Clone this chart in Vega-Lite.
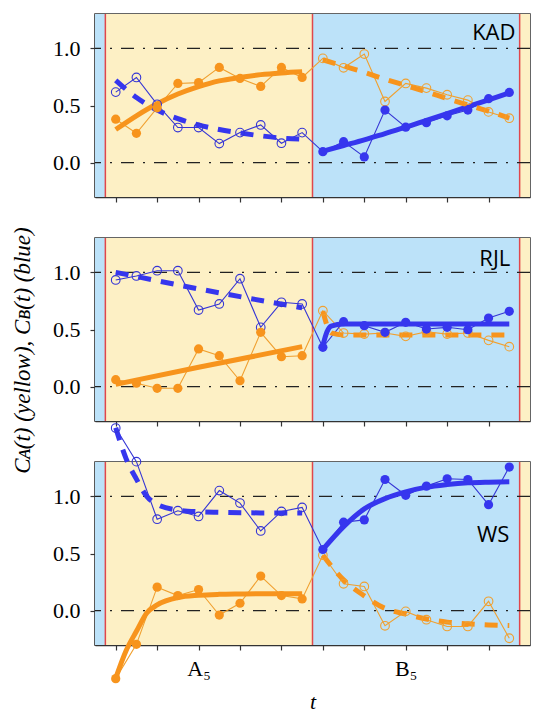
{
  "$schema": "https://vega.github.io/schema/vega-lite/v6.json",
  "padding": {"left": 10, "top": 12, "right": 5, "bottom": 5},
  "background": "white",
  "config": {
    "view": {"stroke": "#333", "strokeWidth": 1.5},
    "axis": {"domainColor": "#333", "domainWidth": 1.5, "tickColor": "#333", "tickWidth": 1.2, "tickSize": 5, "grid": false, "labelOverlap": false, "labelSeparation": -30}
  },
  "datasets": {
    "phases": [
      {"start": 0, "end": 0.5, "phase": "B"},
      {"start": 0.5, "end": 10.5, "phase": "A"},
      {"start": 10.5, "end": 20.5, "phase": "B"},
      {"start": 20.5, "end": 21, "phase": "A"}
    ],
    "grid": [{"level": 0}, {"level": 1}],
    "labels": [
      {"panel": "KAD", "t": 20.3, "value": 1.13, "name": "KAD"},
      {"panel": "RJL", "t": 20.05, "value": 1.12, "name": "RJL"},
      {"panel": "WS", "t": 20.0, "value": 0.66, "name": "WS"}
    ],
    "obs": [
      {"panel":"KAD","series":"CA","phase":"A","t":1,"value":0.38},
      {"panel":"KAD","series":"CA","phase":"A","t":2,"value":0.257},
      {"panel":"KAD","series":"CA","phase":"A","t":3,"value":0.48},
      {"panel":"KAD","series":"CA","phase":"A","t":4,"value":0.693},
      {"panel":"KAD","series":"CA","phase":"A","t":5,"value":0.70},
      {"panel":"KAD","series":"CA","phase":"A","t":6,"value":0.833},
      {"panel":"KAD","series":"CA","phase":"A","t":7,"value":0.737},
      {"panel":"KAD","series":"CA","phase":"A","t":8,"value":0.667},
      {"panel":"KAD","series":"CA","phase":"A","t":9,"value":0.833},
      {"panel":"KAD","series":"CA","phase":"A","t":10,"value":0.745},
      {"panel":"KAD","series":"CA","phase":"B","t":11,"value":0.912},
      {"panel":"KAD","series":"CA","phase":"B","t":12,"value":0.83},
      {"panel":"KAD","series":"CA","phase":"B","t":13,"value":0.95},
      {"panel":"KAD","series":"CA","phase":"B","t":14,"value":0.535},
      {"panel":"KAD","series":"CA","phase":"B","t":15,"value":0.693},
      {"panel":"KAD","series":"CA","phase":"B","t":16,"value":0.652},
      {"panel":"KAD","series":"CA","phase":"B","t":17,"value":0.594},
      {"panel":"KAD","series":"CA","phase":"B","t":18,"value":0.547},
      {"panel":"KAD","series":"CA","phase":"B","t":19,"value":0.444},
      {"panel":"KAD","series":"CA","phase":"B","t":20,"value":0.389},
      {"panel":"KAD","series":"CB","phase":"A","t":1,"value":0.617},
      {"panel":"KAD","series":"CB","phase":"A","t":2,"value":0.745},
      {"panel":"KAD","series":"CB","phase":"A","t":3,"value":0.51},
      {"panel":"KAD","series":"CB","phase":"A","t":4,"value":0.307},
      {"panel":"KAD","series":"CB","phase":"A","t":5,"value":0.307},
      {"panel":"KAD","series":"CB","phase":"A","t":6,"value":0.167},
      {"panel":"KAD","series":"CB","phase":"A","t":7,"value":0.263},
      {"panel":"KAD","series":"CB","phase":"A","t":8,"value":0.33},
      {"panel":"KAD","series":"CB","phase":"A","t":9,"value":0.17},
      {"panel":"KAD","series":"CB","phase":"A","t":10,"value":0.263},
      {"panel":"KAD","series":"CB","phase":"B","t":11,"value":0.096},
      {"panel":"KAD","series":"CB","phase":"B","t":12,"value":0.184},
      {"panel":"KAD","series":"CB","phase":"B","t":13,"value":0.05},
      {"panel":"KAD","series":"CB","phase":"B","t":14,"value":0.46},
      {"panel":"KAD","series":"CB","phase":"B","t":15,"value":0.31},
      {"panel":"KAD","series":"CB","phase":"B","t":16,"value":0.35},
      {"panel":"KAD","series":"CB","phase":"B","t":17,"value":0.41},
      {"panel":"KAD","series":"CB","phase":"B","t":18,"value":0.46},
      {"panel":"KAD","series":"CB","phase":"B","t":19,"value":0.56},
      {"panel":"KAD","series":"CB","phase":"B","t":20,"value":0.614},
      {"panel":"RJL","series":"CA","phase":"A","t":1,"value":0.061},
      {"panel":"RJL","series":"CA","phase":"A","t":2,"value":0.03},
      {"panel":"RJL","series":"CA","phase":"A","t":3,"value":-0.014},
      {"panel":"RJL","series":"CA","phase":"A","t":4,"value":-0.014},
      {"panel":"RJL","series":"CA","phase":"A","t":5,"value":0.33},
      {"panel":"RJL","series":"CA","phase":"A","t":6,"value":0.271},
      {"panel":"RJL","series":"CA","phase":"A","t":7,"value":0.052},
      {"panel":"RJL","series":"CA","phase":"A","t":8,"value":0.475},
      {"panel":"RJL","series":"CA","phase":"A","t":9,"value":0.262},
      {"panel":"RJL","series":"CA","phase":"A","t":10,"value":0.271},
      {"panel":"RJL","series":"CA","phase":"B","t":11,"value":0.664},
      {"panel":"RJL","series":"CA","phase":"B","t":12,"value":0.469},
      {"panel":"RJL","series":"CA","phase":"B","t":13,"value":0.46},
      {"panel":"RJL","series":"CA","phase":"B","t":14,"value":0.47},
      {"panel":"RJL","series":"CA","phase":"B","t":15,"value":0.44},
      {"panel":"RJL","series":"CA","phase":"B","t":16,"value":0.48},
      {"panel":"RJL","series":"CA","phase":"B","t":17,"value":0.46},
      {"panel":"RJL","series":"CA","phase":"B","t":18,"value":0.47},
      {"panel":"RJL","series":"CA","phase":"B","t":19,"value":0.405},
      {"panel":"RJL","series":"CA","phase":"B","t":20,"value":0.35},
      {"panel":"RJL","series":"CB","phase":"A","t":1,"value":0.933},
      {"panel":"RJL","series":"CB","phase":"A","t":2,"value":0.968},
      {"panel":"RJL","series":"CB","phase":"A","t":3,"value":1.014},
      {"panel":"RJL","series":"CB","phase":"A","t":4,"value":1.014},
      {"panel":"RJL","series":"CB","phase":"A","t":5,"value":0.67},
      {"panel":"RJL","series":"CB","phase":"A","t":6,"value":0.723},
      {"panel":"RJL","series":"CB","phase":"A","t":7,"value":0.944},
      {"panel":"RJL","series":"CB","phase":"A","t":8,"value":0.519},
      {"panel":"RJL","series":"CB","phase":"A","t":9,"value":0.738},
      {"panel":"RJL","series":"CB","phase":"A","t":10,"value":0.723},
      {"panel":"RJL","series":"CB","phase":"B","t":11,"value":0.344},
      {"panel":"RJL","series":"CB","phase":"B","t":12,"value":0.568},
      {"panel":"RJL","series":"CB","phase":"B","t":13,"value":0.533},
      {"panel":"RJL","series":"CB","phase":"B","t":14,"value":0.475},
      {"panel":"RJL","series":"CB","phase":"B","t":15,"value":0.563},
      {"panel":"RJL","series":"CB","phase":"B","t":16,"value":0.504},
      {"panel":"RJL","series":"CB","phase":"B","t":17,"value":0.519},
      {"panel":"RJL","series":"CB","phase":"B","t":18,"value":0.498},
      {"panel":"RJL","series":"CB","phase":"B","t":19,"value":0.60},
      {"panel":"RJL","series":"CB","phase":"B","t":20,"value":0.659},
      {"panel":"WS","series":"CA","phase":"A","t":1,"value":-0.594},
      {"panel":"WS","series":"CA","phase":"A","t":2,"value":-0.294},
      {"panel":"WS","series":"CA","phase":"A","t":3,"value":0.206},
      {"panel":"WS","series":"CA","phase":"A","t":4,"value":0.132},
      {"panel":"WS","series":"CA","phase":"A","t":5,"value":0.185},
      {"panel":"WS","series":"CA","phase":"A","t":6,"value":-0.038},
      {"panel":"WS","series":"CA","phase":"A","t":7,"value":0.065},
      {"panel":"WS","series":"CA","phase":"A","t":8,"value":0.303},
      {"panel":"WS","series":"CA","phase":"A","t":9,"value":0.132},
      {"panel":"WS","series":"CA","phase":"A","t":10,"value":0.103},
      {"panel":"WS","series":"CA","phase":"B","t":11,"value":0.485},
      {"panel":"WS","series":"CA","phase":"B","t":12,"value":0.235},
      {"panel":"WS","series":"CA","phase":"B","t":13,"value":0.212},
      {"panel":"WS","series":"CA","phase":"B","t":14,"value":-0.132},
      {"panel":"WS","series":"CA","phase":"B","t":15,"value":-0.006},
      {"panel":"WS","series":"CA","phase":"B","t":16,"value":-0.079},
      {"panel":"WS","series":"CA","phase":"B","t":17,"value":-0.138},
      {"panel":"WS","series":"CA","phase":"B","t":18,"value":-0.138},
      {"panel":"WS","series":"CA","phase":"B","t":19,"value":0.082},
      {"panel":"WS","series":"CA","phase":"B","t":20,"value":-0.241},
      {"panel":"WS","series":"CB","phase":"A","t":1,"value":1.597},
      {"panel":"WS","series":"CB","phase":"A","t":2,"value":1.303},
      {"panel":"WS","series":"CB","phase":"A","t":3,"value":0.80},
      {"panel":"WS","series":"CB","phase":"A","t":4,"value":0.874},
      {"panel":"WS","series":"CB","phase":"A","t":5,"value":0.824},
      {"panel":"WS","series":"CB","phase":"A","t":6,"value":1.05},
      {"panel":"WS","series":"CB","phase":"A","t":7,"value":0.941},
      {"panel":"WS","series":"CB","phase":"A","t":8,"value":0.697},
      {"panel":"WS","series":"CB","phase":"A","t":9,"value":0.868},
      {"panel":"WS","series":"CB","phase":"A","t":10,"value":0.903},
      {"panel":"WS","series":"CB","phase":"B","t":11,"value":0.535},
      {"panel":"WS","series":"CB","phase":"B","t":12,"value":0.774},
      {"panel":"WS","series":"CB","phase":"B","t":13,"value":0.794},
      {"panel":"WS","series":"CB","phase":"B","t":14,"value":1.147},
      {"panel":"WS","series":"CB","phase":"B","t":15,"value":1.009},
      {"panel":"WS","series":"CB","phase":"B","t":16,"value":1.089},
      {"panel":"WS","series":"CB","phase":"B","t":17,"value":1.153},
      {"panel":"WS","series":"CB","phase":"B","t":18,"value":1.147},
      {"panel":"WS","series":"CB","phase":"B","t":19,"value":0.927},
      {"panel":"WS","series":"CB","phase":"B","t":20,"value":1.256}
    ],
    "fit": [
      {"panel":"KAD","series":"CA","phase":"A","t":1,"value":0.29},
      {"panel":"KAD","series":"CA","phase":"A","t":2,"value":0.41},
      {"panel":"KAD","series":"CA","phase":"A","t":3,"value":0.515},
      {"panel":"KAD","series":"CA","phase":"A","t":4,"value":0.60},
      {"panel":"KAD","series":"CA","phase":"A","t":5,"value":0.665},
      {"panel":"KAD","series":"CA","phase":"A","t":6,"value":0.715},
      {"panel":"KAD","series":"CA","phase":"A","t":7,"value":0.745},
      {"panel":"KAD","series":"CA","phase":"A","t":8,"value":0.77},
      {"panel":"KAD","series":"CA","phase":"A","t":9,"value":0.785},
      {"panel":"KAD","series":"CA","phase":"A","t":10,"value":0.795},
      {"panel":"KAD","series":"CB","phase":"A","t":1,"value":0.72},
      {"panel":"KAD","series":"CB","phase":"A","t":2,"value":0.57},
      {"panel":"KAD","series":"CB","phase":"A","t":3,"value":0.46},
      {"panel":"KAD","series":"CB","phase":"A","t":4,"value":0.385},
      {"panel":"KAD","series":"CB","phase":"A","t":5,"value":0.33},
      {"panel":"KAD","series":"CB","phase":"A","t":6,"value":0.29},
      {"panel":"KAD","series":"CB","phase":"A","t":7,"value":0.26},
      {"panel":"KAD","series":"CB","phase":"A","t":8,"value":0.235},
      {"panel":"KAD","series":"CB","phase":"A","t":9,"value":0.215},
      {"panel":"KAD","series":"CB","phase":"A","t":10,"value":0.205},
      {"panel":"KAD","series":"CB","phase":"B","t":11,"value":0.10},
      {"panel":"KAD","series":"CB","phase":"B","t":12,"value":0.15},
      {"panel":"KAD","series":"CB","phase":"B","t":13,"value":0.20},
      {"panel":"KAD","series":"CB","phase":"B","t":14,"value":0.255},
      {"panel":"KAD","series":"CB","phase":"B","t":15,"value":0.31},
      {"panel":"KAD","series":"CB","phase":"B","t":16,"value":0.37},
      {"panel":"KAD","series":"CB","phase":"B","t":17,"value":0.43},
      {"panel":"KAD","series":"CB","phase":"B","t":18,"value":0.49},
      {"panel":"KAD","series":"CB","phase":"B","t":19,"value":0.55},
      {"panel":"KAD","series":"CB","phase":"B","t":20,"value":0.61},
      {"panel":"KAD","series":"CA","phase":"B","t":11,"value":0.90},
      {"panel":"KAD","series":"CA","phase":"B","t":12,"value":0.845},
      {"panel":"KAD","series":"CA","phase":"B","t":13,"value":0.79},
      {"panel":"KAD","series":"CA","phase":"B","t":14,"value":0.73},
      {"panel":"KAD","series":"CA","phase":"B","t":15,"value":0.675},
      {"panel":"KAD","series":"CA","phase":"B","t":16,"value":0.62},
      {"panel":"KAD","series":"CA","phase":"B","t":17,"value":0.56},
      {"panel":"KAD","series":"CA","phase":"B","t":18,"value":0.505},
      {"panel":"KAD","series":"CA","phase":"B","t":19,"value":0.45},
      {"panel":"KAD","series":"CA","phase":"B","t":20,"value":0.39},
      {"panel":"RJL","series":"CA","phase":"A","t":1,"value":0.02},
      {"panel":"RJL","series":"CA","phase":"A","t":5,"value":0.17},
      {"panel":"RJL","series":"CA","phase":"A","t":10,"value":0.35},
      {"panel":"RJL","series":"CB","phase":"A","t":1,"value":1.0},
      {"panel":"RJL","series":"CB","phase":"A","t":5,"value":0.855},
      {"panel":"RJL","series":"CB","phase":"A","t":10,"value":0.69},
      {"panel":"RJL","series":"CB","phase":"B","t":11,"value":0.36},
      {"panel":"RJL","series":"CB","phase":"B","t":11.2,"value":0.48},
      {"panel":"RJL","series":"CB","phase":"B","t":11.4,"value":0.53},
      {"panel":"RJL","series":"CB","phase":"B","t":12,"value":0.548},
      {"panel":"RJL","series":"CB","phase":"B","t":20,"value":0.548},
      {"panel":"RJL","series":"CA","phase":"B","t":11,"value":0.66},
      {"panel":"RJL","series":"CA","phase":"B","t":11.4,"value":0.47},
      {"panel":"RJL","series":"CA","phase":"B","t":12,"value":0.452},
      {"panel":"RJL","series":"CA","phase":"B","t":20,"value":0.452},
      {"panel":"WS","series":"CA","phase":"A","t":1,"value":-0.59},
      {"panel":"WS","series":"CA","phase":"A","t":1.5,"value":-0.35},
      {"panel":"WS","series":"CA","phase":"A","t":2,"value":-0.18},
      {"panel":"WS","series":"CA","phase":"A","t":2.5,"value":-0.02},
      {"panel":"WS","series":"CA","phase":"A","t":3,"value":0.05},
      {"panel":"WS","series":"CA","phase":"A","t":4,"value":0.115},
      {"panel":"WS","series":"CA","phase":"A","t":5,"value":0.135},
      {"panel":"WS","series":"CA","phase":"A","t":6,"value":0.143},
      {"panel":"WS","series":"CA","phase":"A","t":7,"value":0.146},
      {"panel":"WS","series":"CA","phase":"A","t":8,"value":0.148},
      {"panel":"WS","series":"CA","phase":"A","t":10,"value":0.148},
      {"panel":"WS","series":"CB","phase":"A","t":1,"value":1.6},
      {"panel":"WS","series":"CB","phase":"A","t":1.5,"value":1.33},
      {"panel":"WS","series":"CB","phase":"A","t":2,"value":1.15},
      {"panel":"WS","series":"CB","phase":"A","t":2.5,"value":1.0},
      {"panel":"WS","series":"CB","phase":"A","t":3,"value":0.93},
      {"panel":"WS","series":"CB","phase":"A","t":4,"value":0.88},
      {"panel":"WS","series":"CB","phase":"A","t":5,"value":0.865},
      {"panel":"WS","series":"CB","phase":"A","t":6,"value":0.86},
      {"panel":"WS","series":"CB","phase":"A","t":8,"value":0.855},
      {"panel":"WS","series":"CB","phase":"A","t":10,"value":0.855},
      {"panel":"WS","series":"CB","phase":"B","t":11,"value":0.535},
      {"panel":"WS","series":"CB","phase":"B","t":12,"value":0.735},
      {"panel":"WS","series":"CB","phase":"B","t":13,"value":0.89},
      {"panel":"WS","series":"CB","phase":"B","t":14,"value":0.98},
      {"panel":"WS","series":"CB","phase":"B","t":15,"value":1.039},
      {"panel":"WS","series":"CB","phase":"B","t":16,"value":1.08},
      {"panel":"WS","series":"CB","phase":"B","t":17,"value":1.103},
      {"panel":"WS","series":"CB","phase":"B","t":18,"value":1.118},
      {"panel":"WS","series":"CB","phase":"B","t":19,"value":1.124},
      {"panel":"WS","series":"CB","phase":"B","t":20,"value":1.127},
      {"panel":"WS","series":"CA","phase":"B","t":11,"value":0.485},
      {"panel":"WS","series":"CA","phase":"B","t":12,"value":0.27},
      {"panel":"WS","series":"CA","phase":"B","t":13,"value":0.13},
      {"panel":"WS","series":"CA","phase":"B","t":14,"value":0.02},
      {"panel":"WS","series":"CA","phase":"B","t":15,"value":-0.03},
      {"panel":"WS","series":"CA","phase":"B","t":16,"value":-0.073},
      {"panel":"WS","series":"CA","phase":"B","t":17,"value":-0.1},
      {"panel":"WS","series":"CA","phase":"B","t":18,"value":-0.115},
      {"panel":"WS","series":"CA","phase":"B","t":19,"value":-0.125},
      {"panel":"WS","series":"CA","phase":"B","t":20,"value":-0.13}
    ]
  },
  "spacing": 41,
  "bounds": "flush",
  "vconcat": [
    {
      "width": 435, "height": 183,
      "layer": [
        {"data": {"name": "phases"}, "mark": {"type": "rect"},
         "encoding": {
           "x": {"field": "start", "type": "quantitative", "scale": {"domain": [0, 21], "nice": false, "zero": false},
                 "axis": {"orient": "bottom", "values": [1,2,3,4,5,6,7,8,9,10,11,12,13,14,15,16,17,18,19,20], "labels": false, "title": null}},
           "x2": {"field": "end"},
           "fill": {"field": "phase", "type": "nominal", "scale": {"domain": ["A", "B"], "range": ["#FDF0C5", "#BCE2F9"]}, "legend": null}}},
        {"data": {"name": "phases"}, "transform": [{"filter": "datum.start > 0"}],
         "mark": {"type": "rule", "color": "#E0474C", "strokeWidth": 1.5},
         "encoding": {"x": {"field": "start", "type": "quantitative"}}},
        {"data": {"name": "grid"},
         "mark": {"type": "rule", "color": "#222", "strokeWidth": 1.2, "strokeDash": [13, 9, 2, 9]},
         "encoding": {
           "y": {"field": "level", "type": "quantitative", "scale": {"domain": [-0.3, 1.3], "nice": false, "zero": false},
                 "axis": {"orient": "left", "values": [0, 0.5, 1], "format": ".1f", "labelFont": "Liberation Serif", "labelFontSize": 22, "labelColor": "#000", "labelPadding": 10, "title": null}}}},
        {"data": {"name": "obs"}, "transform": [{"filter": "datum.panel == 'KAD'"}],
         "mark": {"type": "line", "strokeWidth": 1.1},
         "encoding": {
           "x": {"field": "t", "type": "quantitative"},
           "y": {"field": "value", "type": "quantitative"},
           "stroke": {"field": "series", "type": "nominal", "scale": {"domain": ["CA", "CB"], "range": ["#F0A030", "#3535D5"]}, "legend": null}}},
        {"data": {"name": "fit"}, "transform": [{"filter": "datum.panel == 'KAD' && ((datum.phase == 'A' && datum.series == 'CA') || (datum.phase == 'B' && datum.series == 'CB'))"}],
         "mark": {"type": "line", "strokeWidth": 5, "interpolate": "monotone"},
         "encoding": {
           "x": {"field": "t", "type": "quantitative"},
           "y": {"field": "value", "type": "quantitative"},
           "color": {"field": "series", "type": "nominal", "scale": {"domain": ["CA", "CB"], "range": ["#F7941D", "#3636EE"]}, "legend": null},
           "detail": {"field": "phase"}}},
        {"data": {"name": "fit"}, "transform": [{"filter": "datum.panel == 'KAD' && ((datum.phase == 'A' && datum.series == 'CB') || (datum.phase == 'B' && datum.series == 'CA'))"}],
         "mark": {"type": "line", "strokeWidth": 5, "interpolate": "monotone", "strokeDash": [13, 10], "strokeCap": "butt"},
         "encoding": {
           "x": {"field": "t", "type": "quantitative"},
           "y": {"field": "value", "type": "quantitative"},
           "color": {"field": "series", "type": "nominal", "legend": null},
           "detail": {"field": "phase"}}},
        {"data": {"name": "obs"}, "transform": [{"filter": "datum.panel == 'KAD' && ((datum.phase == 'A' && datum.series == 'CB') || (datum.phase == 'B' && datum.series == 'CA'))"}],
         "mark": {"type": "point", "filled": false, "size": 75, "strokeWidth": 1.1, "opacity": 1},
         "encoding": {
           "x": {"field": "t", "type": "quantitative"},
           "y": {"field": "value", "type": "quantitative"},
           "stroke": {"field": "series", "type": "nominal", "legend": null}}},
        {"data": {"name": "obs"}, "transform": [{"filter": "datum.panel == 'KAD' && ((datum.phase == 'A' && datum.series == 'CA') || (datum.phase == 'B' && datum.series == 'CB'))"}],
         "mark": {"type": "circle", "size": 85, "opacity": 1},
         "encoding": {
           "x": {"field": "t", "type": "quantitative"},
           "y": {"field": "value", "type": "quantitative"},
           "color": {"field": "series", "type": "nominal", "legend": null}}},
        {"data": {"name": "labels"}, "transform": [{"filter": "datum.panel == 'KAD'"}],
         "mark": {"type": "text", "align": "right", "baseline": "middle", "font": "Open Sans", "fontSize": 22, "color": "#000"},
         "encoding": {
           "x": {"field": "t", "type": "quantitative"},
           "y": {"field": "value", "type": "quantitative"},
           "text": {"field": "name"}}}
      ]
    },
    {
      "width": 435, "height": 183,
      "layer": [
        {"data": {"name": "phases"}, "mark": {"type": "rect"},
         "encoding": {
           "x": {"field": "start", "type": "quantitative", "scale": {"domain": [0, 21], "nice": false, "zero": false},
                 "axis": {"orient": "bottom", "values": [1,2,3,4,5,6,7,8,9,10,11,12,13,14,15,16,17,18,19,20], "labels": false, "title": null}},
           "x2": {"field": "end"},
           "fill": {"field": "phase", "type": "nominal", "scale": {"domain": ["A", "B"], "range": ["#FDF0C5", "#BCE2F9"]}, "legend": null}}},
        {"data": {"name": "phases"}, "transform": [{"filter": "datum.start > 0"}],
         "mark": {"type": "rule", "color": "#E0474C", "strokeWidth": 1.5},
         "encoding": {"x": {"field": "start", "type": "quantitative"}}},
        {"data": {"name": "grid"},
         "mark": {"type": "rule", "color": "#222", "strokeWidth": 1.2, "strokeDash": [13, 9, 2, 9]},
         "encoding": {
           "y": {"field": "level", "type": "quantitative", "scale": {"domain": [-0.3, 1.3], "nice": false, "zero": false},
                 "axis": {"orient": "left", "values": [0, 0.5, 1], "format": ".1f", "labelFont": "Liberation Serif", "labelFontSize": 22, "labelColor": "#000", "labelPadding": 10,
                          "title": "C\u1D00(t) (yellow), C\u0299(t) (blue)", "titleFont": "Liberation Serif", "titleFontStyle": "italic", "titleFontWeight": "normal", "titleFontSize": 23, "titleColor": "#000", "titlePadding": 18, "titleY": 112}}}},
        {"data": {"name": "obs"}, "transform": [{"filter": "datum.panel == 'RJL'"}],
         "mark": {"type": "line", "strokeWidth": 1.1},
         "encoding": {
           "x": {"field": "t", "type": "quantitative"},
           "y": {"field": "value", "type": "quantitative"},
           "stroke": {"field": "series", "type": "nominal", "scale": {"domain": ["CA", "CB"], "range": ["#F0A030", "#3535D5"]}, "legend": null}}},
        {"data": {"name": "fit"}, "transform": [{"filter": "datum.panel == 'RJL' && ((datum.phase == 'A' && datum.series == 'CA') || (datum.phase == 'B' && datum.series == 'CB'))"}],
         "mark": {"type": "line", "strokeWidth": 5, "interpolate": "monotone"},
         "encoding": {
           "x": {"field": "t", "type": "quantitative"},
           "y": {"field": "value", "type": "quantitative"},
           "color": {"field": "series", "type": "nominal", "scale": {"domain": ["CA", "CB"], "range": ["#F7941D", "#3636EE"]}, "legend": null},
           "detail": {"field": "phase"}}},
        {"data": {"name": "fit"}, "transform": [{"filter": "datum.panel == 'RJL' && ((datum.phase == 'A' && datum.series == 'CB') || (datum.phase == 'B' && datum.series == 'CA'))"}],
         "mark": {"type": "line", "strokeWidth": 5, "interpolate": "monotone", "strokeDash": [13, 10], "strokeCap": "butt"},
         "encoding": {
           "x": {"field": "t", "type": "quantitative"},
           "y": {"field": "value", "type": "quantitative"},
           "color": {"field": "series", "type": "nominal", "legend": null},
           "detail": {"field": "phase"}}},
        {"data": {"name": "obs"}, "transform": [{"filter": "datum.panel == 'RJL' && ((datum.phase == 'A' && datum.series == 'CB') || (datum.phase == 'B' && datum.series == 'CA'))"}],
         "mark": {"type": "point", "filled": false, "size": 75, "strokeWidth": 1.1, "opacity": 1},
         "encoding": {
           "x": {"field": "t", "type": "quantitative"},
           "y": {"field": "value", "type": "quantitative"},
           "stroke": {"field": "series", "type": "nominal", "legend": null}}},
        {"data": {"name": "obs"}, "transform": [{"filter": "datum.panel == 'RJL' && ((datum.phase == 'A' && datum.series == 'CA') || (datum.phase == 'B' && datum.series == 'CB'))"}],
         "mark": {"type": "circle", "size": 85, "opacity": 1},
         "encoding": {
           "x": {"field": "t", "type": "quantitative"},
           "y": {"field": "value", "type": "quantitative"},
           "color": {"field": "series", "type": "nominal", "legend": null}}},
        {"data": {"name": "labels"}, "transform": [{"filter": "datum.panel == 'RJL'"}],
         "mark": {"type": "text", "align": "right", "baseline": "middle", "font": "Open Sans", "fontSize": 22, "color": "#000"},
         "encoding": {
           "x": {"field": "t", "type": "quantitative"},
           "y": {"field": "value", "type": "quantitative"},
           "text": {"field": "name"}}}
      ]
    },
    {
      "width": 435, "height": 183,
      "layer": [
        {"data": {"name": "phases"}, "mark": {"type": "rect"},
         "encoding": {
           "x": {"field": "start", "type": "quantitative", "scale": {"domain": [0, 21], "nice": false, "zero": false},
                 "axis": {"orient": "bottom", "values": [1,2,3,4,5,6,7,8,9,10,11,12,13,14,15,16,17,18,19,20],
                          "labelExpr": "datum.value == 5 ? 'A\u2085' : datum.value == 10 ? 'A\u2081\u2080' : datum.value == 15 ? 'B\u2085' : datum.value == 20 ? 'B\u2081\u2080' : ''",
                          "labelFont": "Liberation Serif", "labelFontSize": 22, "labelColor": "#000", "labelPadding": 8, "labelOverlap": false, "labelFlush": false, "labelSeparation": -30,
                          "title": "t", "titleFont": "Liberation Serif", "titleFontStyle": "italic", "titleFontWeight": "normal", "titleFontSize": 22, "titleColor": "#000", "titlePadding": 12}},
           "x2": {"field": "end"},
           "fill": {"field": "phase", "type": "nominal", "scale": {"domain": ["A", "B"], "range": ["#FDF0C5", "#BCE2F9"]}, "legend": null}}},
        {"data": {"name": "phases"}, "transform": [{"filter": "datum.start > 0"}],
         "mark": {"type": "rule", "color": "#E0474C", "strokeWidth": 1.5},
         "encoding": {"x": {"field": "start", "type": "quantitative", "axis": {"labelOverlap": false, "labelSeparation": -30}}}},
        {"data": {"name": "grid"},
         "mark": {"type": "rule", "color": "#222", "strokeWidth": 1.2, "strokeDash": [13, 9, 2, 9]},
         "encoding": {
           "y": {"field": "level", "type": "quantitative", "scale": {"domain": [-0.3, 1.3], "nice": false, "zero": false},
                 "axis": {"orient": "left", "values": [0, 0.5, 1], "format": ".1f", "labelFont": "Liberation Serif", "labelFontSize": 22, "labelColor": "#000", "labelPadding": 10, "title": null}}}},
        {"data": {"name": "obs"}, "transform": [{"filter": "datum.panel == 'WS'"}],
         "mark": {"type": "line", "strokeWidth": 1.1},
         "encoding": {
           "x": {"field": "t", "type": "quantitative", "axis": {"labelOverlap": false, "labelSeparation": -30}},
           "y": {"field": "value", "type": "quantitative"},
           "stroke": {"field": "series", "type": "nominal", "scale": {"domain": ["CA", "CB"], "range": ["#F0A030", "#3535D5"]}, "legend": null}}},
        {"data": {"name": "fit"}, "transform": [{"filter": "datum.panel == 'WS' && ((datum.phase == 'A' && datum.series == 'CA') || (datum.phase == 'B' && datum.series == 'CB'))"}],
         "mark": {"type": "line", "strokeWidth": 5, "interpolate": "monotone"},
         "encoding": {
           "x": {"field": "t", "type": "quantitative", "axis": {"labelOverlap": false, "labelSeparation": -30}},
           "y": {"field": "value", "type": "quantitative"},
           "color": {"field": "series", "type": "nominal", "scale": {"domain": ["CA", "CB"], "range": ["#F7941D", "#3636EE"]}, "legend": null},
           "detail": {"field": "phase"}}},
        {"data": {"name": "fit"}, "transform": [{"filter": "datum.panel == 'WS' && ((datum.phase == 'A' && datum.series == 'CB') || (datum.phase == 'B' && datum.series == 'CA'))"}],
         "mark": {"type": "line", "strokeWidth": 5, "interpolate": "monotone", "strokeDash": [13, 10], "strokeCap": "butt"},
         "encoding": {
           "x": {"field": "t", "type": "quantitative", "axis": {"labelOverlap": false, "labelSeparation": -30}},
           "y": {"field": "value", "type": "quantitative"},
           "color": {"field": "series", "type": "nominal", "legend": null},
           "detail": {"field": "phase"}}},
        {"data": {"name": "obs"}, "transform": [{"filter": "datum.panel == 'WS' && ((datum.phase == 'A' && datum.series == 'CB') || (datum.phase == 'B' && datum.series == 'CA'))"}],
         "mark": {"type": "point", "filled": false, "size": 75, "strokeWidth": 1.1, "opacity": 1},
         "encoding": {
           "x": {"field": "t", "type": "quantitative", "axis": {"labelOverlap": false, "labelSeparation": -30}},
           "y": {"field": "value", "type": "quantitative"},
           "stroke": {"field": "series", "type": "nominal", "legend": null}}},
        {"data": {"name": "obs"}, "transform": [{"filter": "datum.panel == 'WS' && ((datum.phase == 'A' && datum.series == 'CA') || (datum.phase == 'B' && datum.series == 'CB'))"}],
         "mark": {"type": "circle", "size": 85, "opacity": 1},
         "encoding": {
           "x": {"field": "t", "type": "quantitative", "axis": {"labelOverlap": false, "labelSeparation": -30}},
           "y": {"field": "value", "type": "quantitative"},
           "color": {"field": "series", "type": "nominal", "legend": null}}},
        {"data": {"name": "labels"}, "transform": [{"filter": "datum.panel == 'WS'"}],
         "mark": {"type": "text", "align": "right", "baseline": "middle", "font": "Open Sans", "fontSize": 22, "color": "#000"},
         "encoding": {
           "x": {"field": "t", "type": "quantitative", "axis": {"labelOverlap": false, "labelSeparation": -30}},
           "y": {"field": "value", "type": "quantitative"},
           "text": {"field": "name"}}}
      ]
    }
  ]
}
